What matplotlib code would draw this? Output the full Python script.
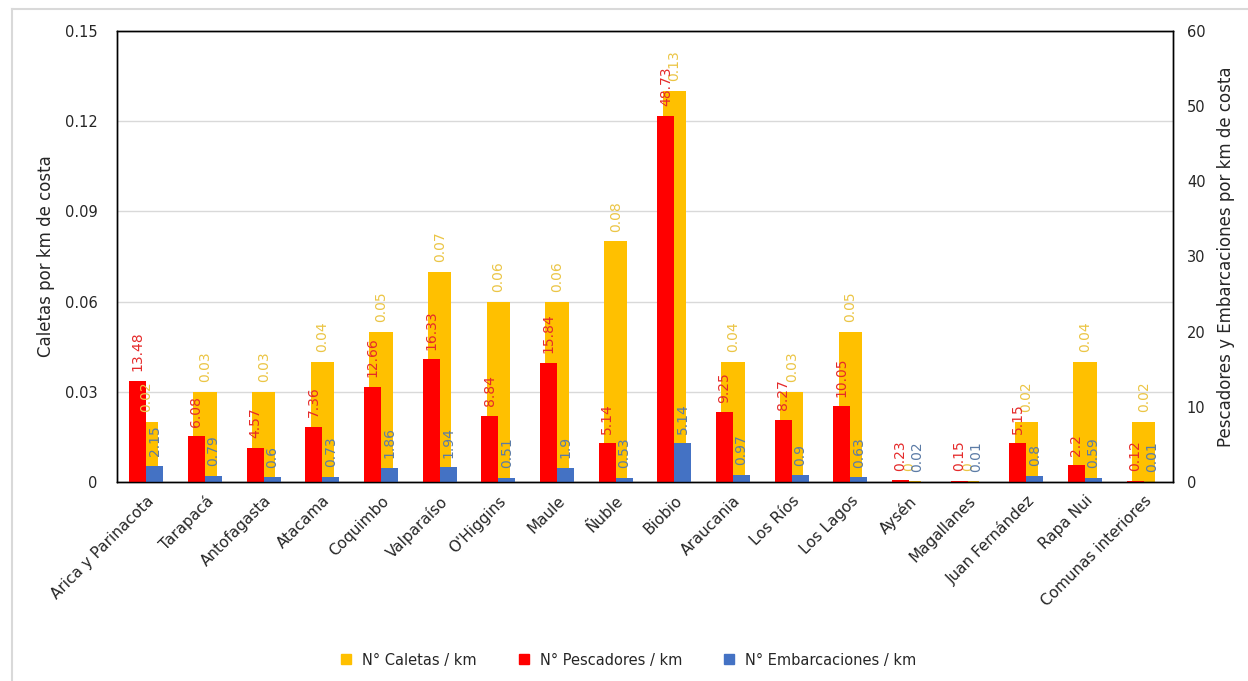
import matplotlib
matplotlib.use("Agg")
import matplotlib.pyplot as plt
from matplotlib.lines import Line2D
import numpy as np

regiones = ["Arica y Parinacota", "Tarapacá", "Antofagasta", "Atacama", "Coquimbo",
            "Valparaíso", "O'Higgins", "Maule", "Ñuble", "Biobio", "Araucania",
            "Los Ríos", "Los Lagos", "Aysén", "Magallanes", "Juan Fernández",
            "Rapa Nui", "Comunas interiores"]
caletas = [0.02, 0.03, 0.03, 0.04, 0.05, 0.07, 0.06, 0.06, 0.08, 0.13, 0.04,
           0.03, 0.05, 0.0003, 0.0003, 0.02, 0.04, 0.02]
caletas_lbl = ["0.02", "0.03", "0.03", "0.04", "0.05", "0.07", "0.06", "0.06", "0.08",
               "0.13", "0.04", "0.03", "0.05", "0", "0", "0.02", "0.04", "0.02"]
pescadores = [13.48, 6.08, 4.57, 7.36, 12.66, 16.33, 8.84, 15.84, 5.14, 48.73, 9.25,
              8.27, 10.05, 0.23, 0.15, 5.15, 2.2, 0.12]
embarcaciones = [2.15, 0.79, 0.6, 0.73, 1.86, 1.94, 0.51, 1.9, 0.53, 5.14, 0.97,
                 0.9, 0.63, 0.02, 0.01, 0.8, 0.59, 0.01]

amarillo = "#FFC000"
rojo = "#FF0000"
azul = "#4472C4"

fig = plt.figure(figsize=(12.48, 6.81), dpi=100)
ax = fig.add_axes([117/1248, 1-482/681, (1173-117)/1248, (482-31)/681])
ax2 = ax.twinx()

x = np.arange(len(regiones))
ax.bar(x, caletas, width=0.4, color=amarillo, zorder=2)
ax2.bar(x - 0.145, pescadores, width=0.29, color=rojo, zorder=2)
ax2.bar(x + 0.145, embarcaciones, width=0.29, color=azul, zorder=2)

ax.set_ylim(0, 0.15)
ax2.set_ylim(0, 60)
ax.set_xlim(-0.5, len(regiones) - 0.5)
ax.set_yticks([0, 0.03, 0.06, 0.09, 0.12, 0.15])
ax.set_yticklabels(["0", "0.03", "0.06", "0.09", "0.12", "0.15"])
ax2.set_yticks(range(0, 61, 10))
ax.yaxis.grid(True, color="#D9D9D9", linewidth=1, zorder=0)
ax.set_axisbelow(True)

ax.set_xticks(x)
ax.set_xticklabels(regiones, rotation=45, ha="right", rotation_mode="anchor",
                   fontsize=11, color="#262626")
ax.tick_params(axis="x", length=0, pad=8)
ax.tick_params(axis="y", length=0, pad=14, labelsize=10.5, labelcolor="#262626")
ax2.tick_params(axis="y", length=0, pad=10, labelsize=10.5, labelcolor="#262626")
for a in (ax, ax2):
    for s in a.spines.values():
        s.set_color("black")
        s.set_linewidth(1)

ax.set_ylabel("Caletas por km de costa", fontsize=12, labelpad=7, color="#262626")
ax2.set_ylabel("Pescadores y Embarcaciones por km de costa", fontsize=12, labelpad=8,
               color="#262626")

# etiquetas (en ax2 para que queden sobre todas las barras)
for i in range(len(regiones)):
    ax2.annotate(caletas_lbl[i], (x[i], caletas[i] * 400), xytext=(0, 7),
                 textcoords="offset points", rotation=90, ha="center", va="bottom",
                 color="#EBC545", fontsize=10, zorder=5)
    ax2.annotate(f"{pescadores[i]:g}", (x[i] - 0.145, pescadores[i]), xytext=(0, 7),
                 textcoords="offset points", rotation=90, ha="center", va="bottom",
                 color="#E52A2A", fontsize=10, zorder=5)
    ax2.annotate(f"{embarcaciones[i]:g}", (x[i] + 0.145, embarcaciones[i]), xytext=(0, 7),
                 textcoords="offset points", rotation=90, ha="center", va="bottom",
                 color="#5B7BA6", fontsize=10, zorder=5)

handles = [Line2D([], [], marker="s", linestyle="none", color=c, markersize=7)
           for c in (amarillo, rojo, azul)]
fig.legend(handles, ["N° Caletas / km", "N° Pescadores / km", "N° Embarcaciones / km"],
           loc="center", bbox_to_anchor=(624/1248, 1-660/681), ncol=3, frameon=False,
           fontsize=10.5, handletextpad=0.1, columnspacing=2.2, labelcolor="#262626")

# borde exterior del grafico
fig.add_artist(Line2D([12/1248, 1], [1-9/681, 1-9/681], color="#D9D9D9", linewidth=1.5))
fig.add_artist(Line2D([12/1248, 12/1248], [0, 1-9/681], color="#D9D9D9", linewidth=1.5))

fig.savefig("out.png", dpi=100)
